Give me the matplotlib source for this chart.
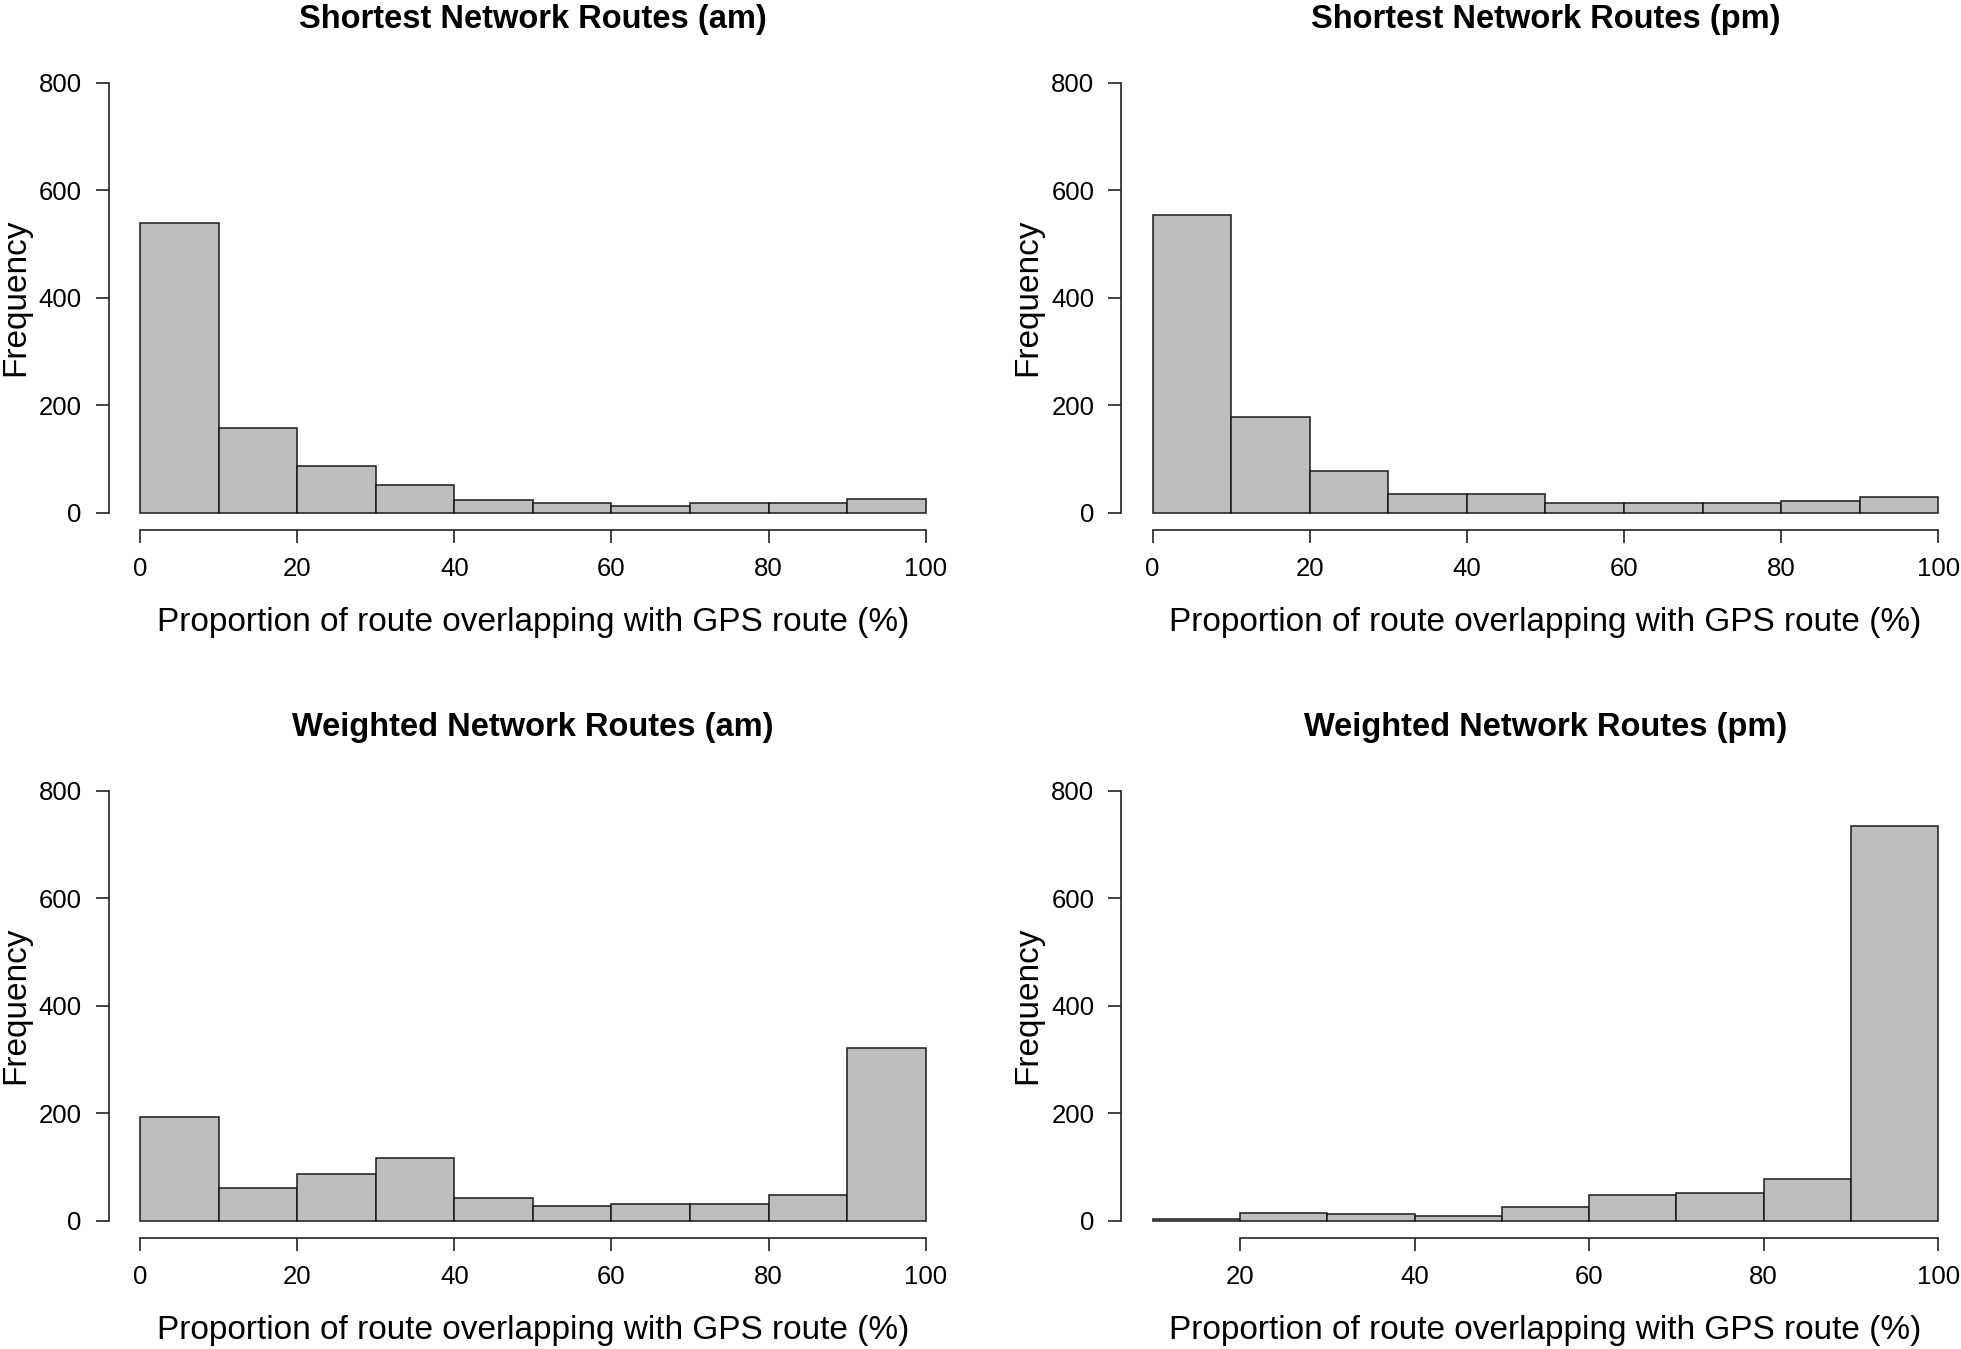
import numpy as np
import matplotlib
matplotlib.use('Agg')
import matplotlib.pyplot as plt

plt.rcParams['font.family'] = ['Liberation Sans', 'DejaVu Sans']

# bin edges and counts
EDGES_FULL = [0, 10, 20, 30, 40, 50, 60, 70, 80, 90, 100]
EDGES_W_PM = [10, 20, 30, 40, 50, 60, 70, 80, 90, 100]

SHORT_AM = [539, 157, 86, 52, 24, 18, 13, 18, 18, 26]
SHORT_PM = [554, 178, 78, 34, 34, 18, 18, 18, 21, 29]
WEIGHT_AM = [193, 60, 86, 116, 42, 27, 32, 32, 47, 321]
WEIGHT_PM = [3, 15, 12, 9, 25, 48, 51, 77, 734]

TITLES = ['Shortest Network Routes (am)', 'Shortest Network Routes (pm)',
          'Weighted Network Routes (am)', 'Weighted Network Routes (pm)']
XLABEL = 'Proportion of route overlapping with GPS route (%)'
YLABEL = 'Frequency'
YTICKS = [0, 200, 400, 600, 800]

panels = [
    (SHORT_AM, EDGES_FULL, [0, 20, 40, 60, 80, 100]),
    (SHORT_PM, EDGES_FULL, [0, 20, 40, 60, 80, 100]),
    (WEIGHT_AM, EDGES_FULL, [0, 20, 40, 60, 80, 100]),
    (WEIGHT_PM, EDGES_W_PM, [20, 40, 60, 80, 100]),
]

W, H = 1961, 1349
fig = plt.figure(figsize=(W / 100, H / 100), dpi=100)
fig.patch.set_facecolor('white')

# axes boxes in pixels: left, top, width, height (R plot regions)
lefts = [108.6, 1121.2]
tops = [65.5, 773.5]
aw, ah = 848.5, 464.4

for i, (counts, edges, xt) in enumerate(panels):
    r, c = divmod(i, 2)
    ax = fig.add_axes([lefts[c] / W, 1 - (tops[r] + ah) / H, aw / W, ah / H])
    e = np.array(edges, float)
    ax.bar(e[:-1], counts, width=np.diff(e), align='edge',
           color='#bebebe', edgecolor='#1a1a1a', linewidth=1.1)
    lo, hi = e[0], e[-1]
    ext = 0.04 * (hi - lo)
    ax.set_xlim(lo - ext, hi + ext)
    ax.set_ylim(-32, 832)
    for s in ('top', 'right'):
        ax.spines[s].set_visible(False)
    ax.spines['left'].set_bounds(0, 800)
    ax.spines['bottom'].set_bounds(xt[0], xt[-1])
    for s in ('left', 'bottom'):
        ax.spines[s].set_linewidth(1.2)
        ax.spines[s].set_color('#222222')
    ax.set_xticks(xt)
    ax.set_yticks(YTICKS)
    ax.tick_params(length=9.4, width=1.2, color='#222222', labelsize=18.5,
                   pad=10)
    ax.set_xlabel(XLABEL, fontsize=24, va='center')
    ax.xaxis.set_label_coords(0.5, -0.2)
    ax.set_ylabel(YLABEL, fontsize=24, va='center')
    ax.yaxis.set_label_coords(-0.11, 0.5)
    ax.set_title(TITLES[i], fontsize=23.5, fontweight='bold', va='center',
                 y=1.10, pad=0)

fig.savefig('out.png', dpi=100, facecolor='white')
